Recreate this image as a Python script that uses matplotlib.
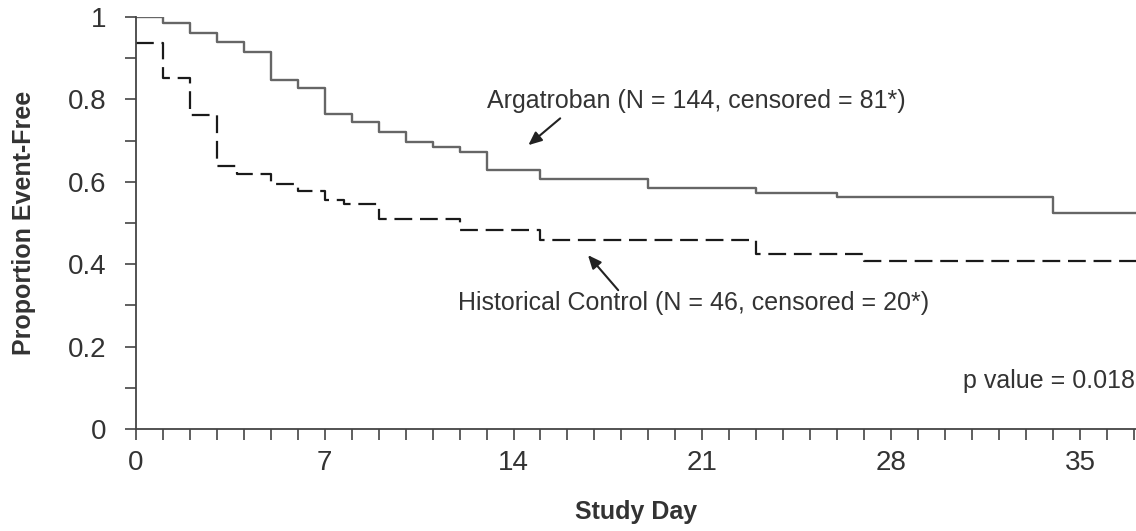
import matplotlib
matplotlib.use("Agg")
import matplotlib.pyplot as plt
from matplotlib.ticker import MultipleLocator

# step values
arg_days = [0, 1, 2, 3, 4, 5, 6, 7, 8, 9, 10, 11, 12, 13, 15, 19, 23, 26, 34, 37.1]
arg_surv = [1.0, 0.985, 0.960, 0.940, 0.916, 0.847, 0.827, 0.764, 0.744, 0.720,
            0.696, 0.685, 0.672, 0.629, 0.608, 0.586, 0.574, 0.562, 0.524, 0.524]

hist_days = [0, 1, 2, 3, 3.75, 5, 6, 7, 7.7, 9, 12, 15, 23, 27, 37.1]
hist_surv = [0.936, 0.851, 0.762, 0.638, 0.619, 0.594, 0.578, 0.556, 0.546,
             0.509, 0.483, 0.459, 0.426, 0.408, 0.408]

x_ticks = [0, 7, 14, 21, 28, 35]
y_ticks = [0, 0.2, 0.4, 0.6, 0.8, 1.0]
y_tick_labels = ["0", "0.2", "0.4", "0.6", "0.8", "1"]

plt.rcParams["font.family"] = ["Liberation Sans", "DejaVu Sans"]
txt = "#333333"

fig = plt.figure(figsize=(11.36, 5.31), dpi=100)
ax = fig.add_axes([0.1195, 0.192, 1 - 0.1195, 0.968 - 0.192])

ax.step(arg_days, arg_surv, where="post", color="#666666", lw=1.7)
ax.step(hist_days, hist_surv, where="post", color="#1a1a1a", lw=1.6,
        linestyle=(0, (8, 3.5)))

ax.set_xlim(0, 37.07)
ax.set_ylim(0, 1.0)
ax.xaxis.set_minor_locator(MultipleLocator(1))
ax.set_xticks(x_ticks)
ax.set_yticks(y_ticks)
ax.set_yticklabels(y_tick_labels)
ax.yaxis.set_minor_locator(MultipleLocator(0.1))

for s in ["top", "right"]:
    ax.spines[s].set_visible(False)
for s in ["left", "bottom"]:
    ax.spines[s].set_linewidth(1.3)
    ax.spines[s].set_color("#444444")

ax.tick_params(which="both", direction="out", length=8, width=1.2, color="#444444")
ax.tick_params(axis="x", labelsize=20, pad=7, labelcolor=txt)
ax.tick_params(axis="y", labelsize=20, pad=13, labelcolor=txt)

ax.set_xlabel("Study Day", fontsize=18, fontweight="bold", color=txt)
ax.set_ylabel("Proportion Event-Free", fontsize=18, fontweight="bold", color=txt)
ax.xaxis.set_label_coords(0.5, -0.172)
ax.yaxis.set_label_coords(-0.1, 0.5)

arrow = dict(arrowstyle="-|>,head_length=0.8,head_width=0.35", color="#222222", lw=1.5,
             shrinkA=0, shrinkB=0)
ax.annotate("", xy=(14.55, 0.689), xytext=(15.73, 0.754), arrowprops=arrow)
ax.text(13.02, 0.779, "Argatroban (N = 144, censored = 81*)", fontsize=18,
        color=txt, ha="left", va="baseline")
ax.annotate("", xy=(16.76, 0.422), xytext=(17.88, 0.337), arrowprops=arrow)
ax.text(11.95, 0.289, "Historical Control (N = 46, censored = 20*)", fontsize=18,
        color=txt, ha="left", va="baseline")
ax.text(37.04, 0.0995, "p value = 0.018", fontsize=18, color=txt,
        ha="right", va="baseline")

fig.savefig("out.png", dpi=100)
